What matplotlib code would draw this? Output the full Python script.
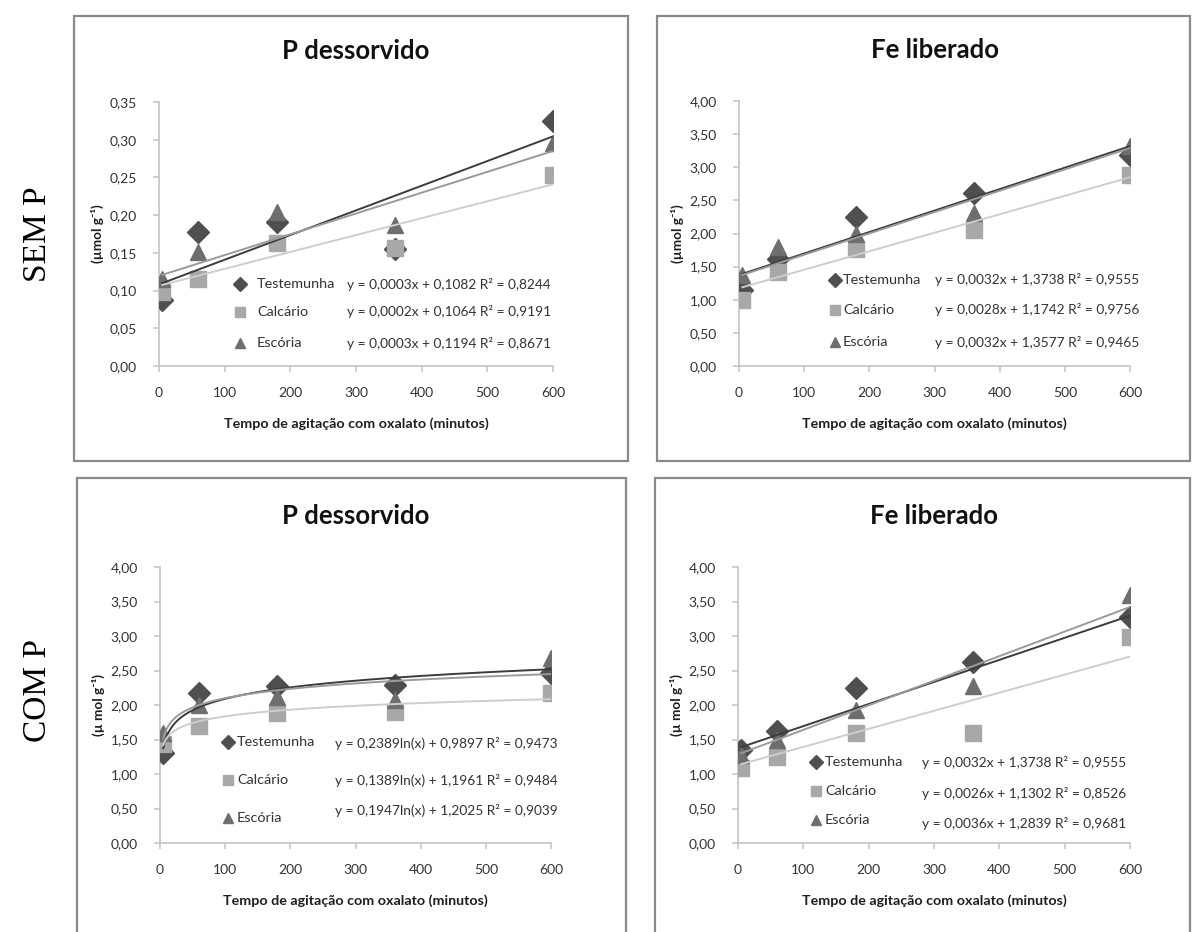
import numpy as np
import matplotlib
matplotlib.use("Agg")
import matplotlib.pyplot as plt
from matplotlib.patches import Rectangle

# tempo de agitação (min)
tempo = [5, 60, 180, 360, 600]
nomes = ["Testemunha", "Calcário", "Escória"]

# P dessorvido - sem P
p_sem_test = [0.088, 0.177, 0.191, 0.155, 0.325]
p_sem_calc = [0.098, 0.115, 0.163, 0.157, 0.253]
p_sem_esc = [0.116, 0.151, 0.204, 0.187, 0.295]
# Fe liberado - sem P
fe_sem_test = [1.15, 1.62, 2.25, 2.61, 3.18]
fe_sem_calc = [0.99, 1.42, 1.77, 2.05, 2.88]
fe_sem_esc = [1.38, 1.80, 2.00, 2.31, 3.32]
# P dessorvido - com P
p_com_test = [1.30, 2.18, 2.28, 2.29, 2.47]
p_com_calc = [1.44, 1.69, 1.88, 1.90, 2.17]
p_com_esc = [1.60, 2.00, 2.12, 2.07, 2.68]
# Fe liberado - com P
fe_com_test = [1.35, 1.63, 2.25, 2.62, 3.27]
fe_com_calc = [1.09, 1.24, 1.60, 1.59, 2.99]
fe_com_esc = [1.27, 1.49, 1.93, 2.27, 3.60]

# coeficientes das linhas de tendência (a, b) e R2
p_sem_coef = [(0.000327, 0.1082), (0.000224, 0.1064), (0.000276, 0.1194)]
p_sem_r2 = [0.8244, 0.9191, 0.8671]
fe_sem_coef = [(0.00324, 1.3738), (0.00279, 1.1742), (0.00322, 1.3577)]
fe_sem_r2 = [0.9555, 0.9756, 0.9465]
p_com_coef = [(0.2389, 0.9897), (0.1389, 1.1961), (0.1947, 1.2025)]  # a ln(x) + b
p_com_r2 = [0.9473, 0.9484, 0.9039]
fe_com_coef = [(0.0032, 1.3738), (0.00262, 1.1302), (0.00356, 1.2839)]
fe_com_r2 = [0.9555, 0.8526, 0.9681]

W, H = 1192, 932
plt.rcParams["font.family"] = ["Lato", "DejaVu Sans"]

marcadores = ["D", "s", "^"]
tam_marc = [11, 11, 12]
cor_marc = ["#4f4f4f", "#a8a8a8", "#6e6e6e"]
cor_linha = ["#3c3c3c", "#cdcdcd", "#9a9a9a"]
cor_texto = "#333333"

fig = plt.figure(figsize=(W / 100, H / 100), dpi=100)


def moldura(l, t, r, b):
    fig.add_artist(Rectangle((l / W, 1 - b / H), (r - l) / W, (b - t) / H,
                             transform=fig.transFigure, fill=False,
                             ec="#8a8a8a", lw=1.6, clip_on=False))


def eixo(l, r, b, t):
    return fig.add_axes([l / W, 1 - b / H, (r - l) / W, (b - t) / H])


def virgula(v, casas):
    return f"{v:.{casas}f}".replace(".", ",")


def painel(ax, titulo, dados, coef, r2, ymax, ystep, ylabel, log=False,
           leg_x=0.2, txt_x=0.24, eq_x=0.47, leg_y=(0.31, 0.2, 0.09), eq_y=None):
    if eq_y is None:
        eq_y = leg_y
    x = np.array(tempo, dtype=float)
    for i, y in enumerate(dados):
        ax.plot(x, y, ls="none", marker=marcadores[i], ms=tam_marc[i],
                color=cor_marc[i], mec=cor_marc[i], zorder=3)
    xx = np.linspace(x.min(), x.max(), 200)
    for i, (a, b) in enumerate(coef):
        yy = a * np.log(xx) + b if log else a * xx + b
        ax.plot(xx, yy, color=cor_linha[i], lw=1.4, zorder=4)

    ax.set_xlim(0, 600)
    ax.set_ylim(0, ymax)
    ax.set_xticks(range(0, 601, 100))
    yt = np.arange(0, ymax + ystep / 2, ystep)
    ax.set_yticks(yt)
    ax.set_yticklabels([virgula(v, 2) for v in yt])
    for s in ["top", "right"]:
        ax.spines[s].set_visible(False)
    for s in ["left", "bottom"]:
        ax.spines[s].set_color("#c4c4c4")
        ax.spines[s].set_linewidth(1.2)
    ax.tick_params(colors="#c4c4c4", labelcolor=cor_texto, labelsize=10,
                   length=4, width=1.1)
    ax.tick_params(axis="x", pad=11)
    ax.tick_params(axis="y", pad=12)
    ax.set_xlabel("Tempo de agitação com oxalato (minutos)", fontsize=10.3,
                  fontweight="bold", color="#1e1e1e", labelpad=13)
    ax.set_ylabel(ylabel, fontsize=9.8, fontweight="bold", color="#1e1e1e",
                  labelpad=4)
    ax.set_title(titulo, fontsize=18.5, fontweight="bold", color="#111111", pad=31)

    # legenda e equações
    for i in range(3):
        ax.plot([leg_x], [leg_y[i]], transform=ax.transAxes, ls="none",
                marker=marcadores[i], ms=7.5, color=cor_marc[i], clip_on=False)
        ax.text(txt_x, leg_y[i], nomes[i], transform=ax.transAxes, fontsize=10.4,
                color=cor_texto, va="center")
        a, b = coef[i]
        termo = "ln(x)" if log else "x"
        eq = f"y = {virgula(a, 4)}{termo} + {virgula(b, 4)} R² = {virgula(r2[i], 4)}"
        ax.text(eq_x, eq_y[i], eq, transform=ax.transAxes, fontsize=9.9,
                color=cor_texto, va="center")


moldura(74, 16, 628, 461)
moldura(657, 16, 1190, 461)
moldura(77, 478, 626, 945)
moldura(655, 478, 1190, 945)

ax1 = eixo(159, 553, 366, 102)
painel(ax1, "P dessorvido", [p_sem_test, p_sem_calc, p_sem_esc], p_sem_coef,
       p_sem_r2, 0.35, 0.05, "(µmol g⁻¹)",
       leg_x=0.206, txt_x=0.249, eq_x=0.477, leg_y=(0.31, 0.205, 0.087))

ax2 = eixo(739, 1130, 366, 101)
painel(ax2, "Fe liberado", [fe_sem_test, fe_sem_calc, fe_sem_esc], fe_sem_coef,
       fe_sem_r2, 4.0, 0.5, "(µmol g⁻¹)",
       leg_x=0.246, txt_x=0.266, eq_x=0.50, leg_y=(0.325, 0.213, 0.091),
       eq_y=(0.325, 0.213, 0.087))

ax3 = eixo(160, 551, 843, 567)
painel(ax3, "P dessorvido", [p_com_test, p_com_calc, p_com_esc], p_com_coef,
       p_com_r2, 4.0, 0.5, "(µ mol g⁻¹)", log=True,
       leg_x=0.174, txt_x=0.197, eq_x=0.448, leg_y=(0.366, 0.228, 0.091),
       eq_y=(0.359, 0.225, 0.116))

ax4 = eixo(738, 1130, 843, 567)
painel(ax4, "Fe liberado", [fe_com_test, fe_com_calc, fe_com_esc], fe_com_coef,
       fe_com_r2, 4.0, 0.5, "(µ mol g⁻¹)",
       leg_x=0.20, txt_x=0.222, eq_x=0.469, leg_y=(0.293, 0.188, 0.083),
       eq_y=(0.29, 0.181, 0.069))

fig.text(38 / W, 1 - 234 / H, "SEM P", rotation=90, ha="center", va="center",
         fontsize=24, family=["Liberation Serif", "DejaVu Serif"])
fig.text(38 / W, 1 - 690 / H, "COM P", rotation=90, ha="center", va="center",
         fontsize=24, family=["Liberation Serif", "DejaVu Serif"])

fig.savefig("out.png", dpi=100)
